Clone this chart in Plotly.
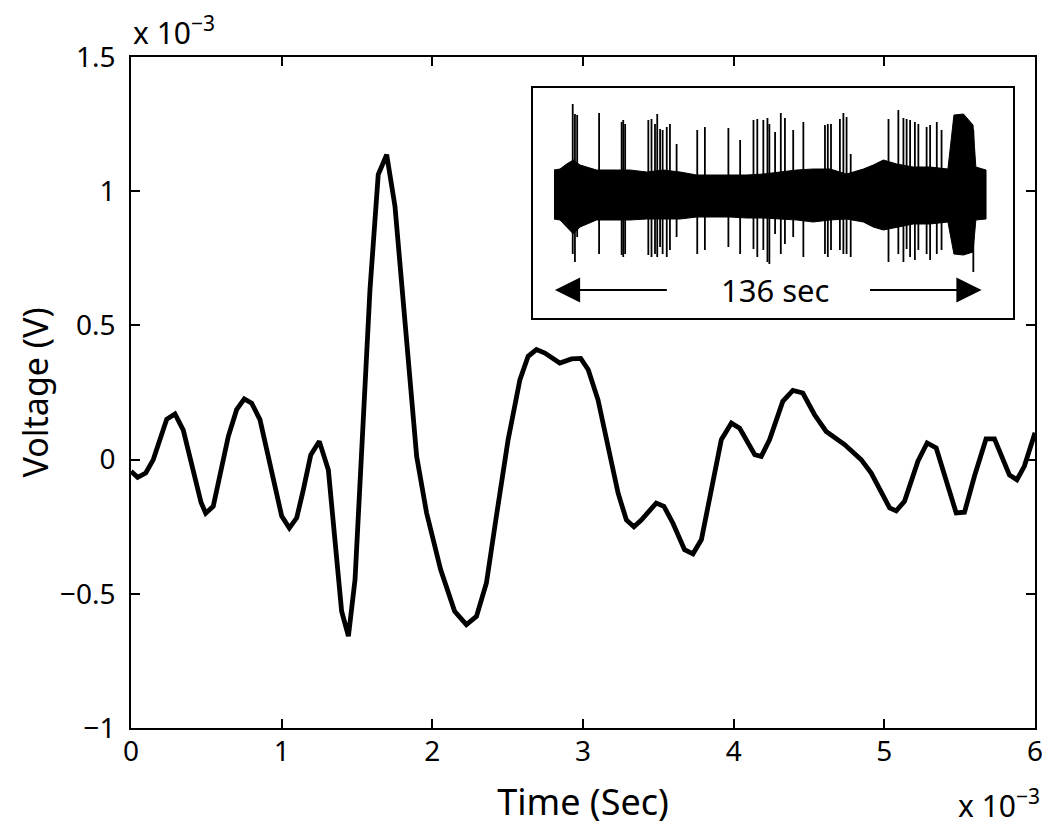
import plotly.graph_objects as go

# main trace: time in ms (x 10^-3 s), voltage in mV (x 10^-3 V)
time_ms = [0.000, 0.044, 0.098, 0.148, 0.237, 0.292, 0.347, 0.465, 0.496, 0.546,
           0.646, 0.701, 0.752, 0.801, 0.856, 1.000, 1.051, 1.100, 1.144, 1.193,
           1.250, 1.310, 1.398, 1.443, 1.487, 1.586, 1.641, 1.697, 1.752, 1.830,
           1.896, 1.962, 2.055, 2.148, 2.226, 2.293, 2.359, 2.425, 2.503, 2.581,
           2.636, 2.691, 2.747, 2.846, 2.924, 2.985, 3.035, 3.100, 3.167, 3.233,
           3.288, 3.338, 3.387, 3.486, 3.537, 3.597, 3.674, 3.730, 3.786, 3.852,
           3.918, 3.985, 4.040, 4.140, 4.183, 4.238, 4.326, 4.393, 4.459, 4.536,
           4.614, 4.736, 4.846, 4.913, 4.990, 5.035, 5.079, 5.134, 5.223, 5.284,
           5.344, 5.410, 5.477, 5.532, 5.598, 5.675, 5.731, 5.830, 5.880, 5.929,
           6.000]
voltage_mv = [-0.044, -0.066, -0.050, 0.000, 0.150, 0.170, 0.110, -0.160, -0.200, -0.174,
              0.087, 0.186, 0.226, 0.210, 0.149, -0.210, -0.255, -0.217, -0.112, 0.017,
              0.068, -0.039, -0.565, -0.658, -0.447, 0.632, 1.062, 1.136, 0.944, 0.422,
              0.012, -0.199, -0.410, -0.565, -0.615, -0.584, -0.460, -0.211, 0.074, 0.297,
              0.385, 0.410, 0.397, 0.360, 0.375, 0.377, 0.335, 0.222, 0.036, -0.125,
              -0.225, -0.250, -0.225, -0.162, -0.174, -0.237, -0.336, -0.351, -0.298, -0.112,
              0.074, 0.136, 0.117, 0.018, 0.012, 0.074, 0.217, 0.258, 0.248, 0.168,
              0.105, 0.056, 0.000, -0.050, -0.137, -0.180, -0.191, -0.155, -0.006, 0.062,
              0.044, -0.075, -0.199, -0.196, -0.062, 0.077, 0.077, -0.057, -0.075, -0.025,
              0.100]

y_ticks = [-1, -0.5, 0, 0.5, 1, 1.5]
y_ticktext = ["\u22121", "\u22120.5", "0", "0.5", "1", "1.5"]
x_ticks = [0, 1, 2, 3, 4, 5, 6]

# inset: 136 s recording, dense noise band envelope (arbitrary units)
band_t = [0, 1.9, 4.0, 6.1, 8.2, 13.4, 19.7, 23.9, 29.2, 34.4, 39.7, 44.9, 50.2,
          55.4, 60.7, 65.9, 71.1, 76.4, 81.6, 86.9, 92.1, 97.4, 100.5, 103.7, 107.9,
          113.1, 118.4, 124.0, 125.9, 128.9, 131.9, 132.8, 136.0]
band_top = [0.27, 0.28, 0.33, 0.37, 0.32, 0.27, 0.27, 0.27, 0.25, 0.27, 0.25, 0.22, 0.22,
            0.22, 0.22, 0.23, 0.25, 0.27, 0.28, 0.28, 0.23, 0.28, 0.32, 0.37, 0.33,
            0.30, 0.30, 0.28, 0.82, 0.83, 0.72, 0.30, 0.27]
band_bot = [-0.22, -0.23, -0.30, -0.37, -0.30, -0.23, -0.23, -0.23, -0.22, -0.22, -0.22, -0.20, -0.20,
            -0.20, -0.21, -0.21, -0.22, -0.23, -0.25, -0.23, -0.22, -0.25, -0.30, -0.33, -0.30,
            -0.27, -0.27, -0.25, -0.57, -0.58, -0.55, -0.23, -0.22]

# spikes sticking out of the band
spike_t = [5.9, 6.6, 7.3, 14.2, 21.3, 21.8, 22.4, 29.7, 30.7, 31.8, 32.5, 33.4, 34.2,
           35.5, 36.5, 38.6, 45.1, 47.5, 54.9, 58.6, 62.8, 64.0, 65.9, 67.2, 67.8,
           69.6, 71.4, 72.7, 75.3, 78.5, 85.3, 86.2, 87.2, 90.0, 91.1, 92.1, 93.4,
           105.3, 108.4, 110.0, 111.0, 112.1, 113.6, 114.7, 117.3, 118.4, 120.5, 122.0, 132.0]
spike_top = [0.93, 0.83, 0.82, 0.84, 0.75, 0.77, 0.73, 0.77, 0.78, 0.73, 0.83, 0.68, 0.67,
             0.70, 0.73, 0.53, 0.67, 0.70, 0.69, 0.57, 0.77, 0.78, 0.77, 0.79, 0.73,
             0.65, 0.84, 0.79, 0.67, 0.75, 0.72, 0.73, 0.73, 0.78, 0.84, 0.80, 0.43,
             0.78, 0.87, 0.79, 0.78, 0.77, 0.75, 0.73, 0.70, 0.72, 0.75, 0.67, 0.67]
spike_bot = [-0.57, -0.65, -0.40, -0.57, -0.58, -0.60, -0.57, -0.58, -0.60, -0.57, -0.60, -0.50, -0.57,
             -0.60, -0.53, -0.40, -0.57, -0.53, -0.50, -0.57, -0.52, -0.60, -0.53, -0.65, -0.67,
             -0.37, -0.57, -0.47, -0.40, -0.60, -0.57, -0.60, -0.53, -0.53, -0.57, -0.57, -0.60,
             -0.65, -0.57, -0.65, -0.52, -0.60, -0.63, -0.53, -0.57, -0.63, -0.57, -0.53, -0.75]

FONT = "Noto Sans"

fig = go.Figure()

fig.add_trace(go.Scatter(x=time_ms, y=voltage_mv, mode="lines",
                         line=dict(color="black", width=4.8),
                         showlegend=False, hoverinfo="skip"))

# inset band
fig.add_trace(go.Scatter(x=band_t + band_t[::-1], y=band_top + band_bot[::-1],
                         mode="lines", fill="toself", fillcolor="black",
                         line=dict(color="black", width=1),
                         xaxis="x2", yaxis="y2", showlegend=False, hoverinfo="skip"))

sx, sy = [], []
for t, top, bot in zip(spike_t, spike_top, spike_bot):
    sx += [t, t, None]
    sy += [bot, top, None]
fig.add_trace(go.Scatter(x=sx, y=sy, mode="lines",
                         line=dict(color="black", width=1.8),
                         xaxis="x2", yaxis="y2", showlegend=False, hoverinfo="skip"))

# the page body adds an 8px margin, so the figure is a bit smaller than the window
fig.update_layout(
    width=1034, height=818,
    margin=dict(l=123, r=7, t=49, b=98),
    paper_bgcolor="white", plot_bgcolor="white",
    font=dict(family=FONT, color="black", size=28),
    xaxis=dict(range=[0, 6], tickvals=x_ticks, ticks="inside", ticklen=9,
               tickwidth=1.5, tickcolor="black", showline=True, linecolor="black",
               linewidth=1.8, mirror="ticks", showgrid=False, zeroline=False,
               tickfont=dict(size=28), ticklabelstandoff=-3, automargin=False,
               ticklabeloverflow="allow",
               title=dict(text="Time (Sec)", font=dict(size=36), standoff=26)),
    yaxis=dict(range=[-1, 1.5], tickvals=y_ticks, ticktext=y_ticktext, ticks="inside",
               ticklen=9, tickwidth=1.5, tickcolor="black", showline=True,
               linecolor="black", linewidth=1.8, mirror="ticks", showgrid=False,
               zeroline=False, tickfont=dict(size=28), ticklabelstandoff=8,
               automargin=False, ticklabeloverflow="allow"),
    xaxis2=dict(domain=[0.4447, 0.9757], anchor="y2", range=[-6.6, 144.5],
                showline=True, linecolor="black", linewidth=2, mirror=True,
                showticklabels=False, ticks="", showgrid=False, zeroline=False),
    yaxis2=dict(domain=[0.611, 0.9538], anchor="x2", range=[-1.21, 1.09],
                showline=True, linecolor="black", linewidth=2, mirror=True,
                showticklabels=False, ticks="", showgrid=False, zeroline=False),
)

# y label as an annotation so it can sit closer to the page edge
fig.add_annotation(text="Voltage (V)", x=0, y=0.5, xref="paper", yref="paper",
                   xanchor="center", yanchor="middle", textangle=-90,
                   showarrow=False, font=dict(size=34), xshift=-97)

fig.add_annotation(text="136 sec", x=69.6, y=-0.93, xref="x2", yref="y2",
                   showarrow=False, font=dict(size=31))
fig.add_annotation(x=0.3, y=-0.93, ax=36.0, ay=-0.93, xref="x2", yref="y2",
                   axref="x2", ayref="y2", text="", showarrow=True,
                   arrowhead=2, arrowsize=2.8, arrowwidth=1.8, arrowcolor="black")
fig.add_annotation(x=134.6, y=-0.93, ax=99.0, ay=-0.93, xref="x2", yref="y2",
                   axref="x2", ayref="y2", text="", showarrow=True,
                   arrowhead=2, arrowsize=2.8, arrowwidth=1.8, arrowcolor="black")

# exponent labels, MATLAB style
fig.add_annotation(text="x 10<sup>\u22123</sup>", x=0, y=1, xref="paper", yref="paper",
                   xanchor="left", yanchor="bottom", showarrow=False,
                   font=dict(size=30), yshift=2)
fig.add_annotation(text="x 10<sup>\u22123</sup>", x=1, y=0, xref="paper", yref="paper",
                   xanchor="right", yanchor="top", showarrow=False,
                   font=dict(size=30), xshift=7, yshift=-52)

fig.write_html("out.html")
